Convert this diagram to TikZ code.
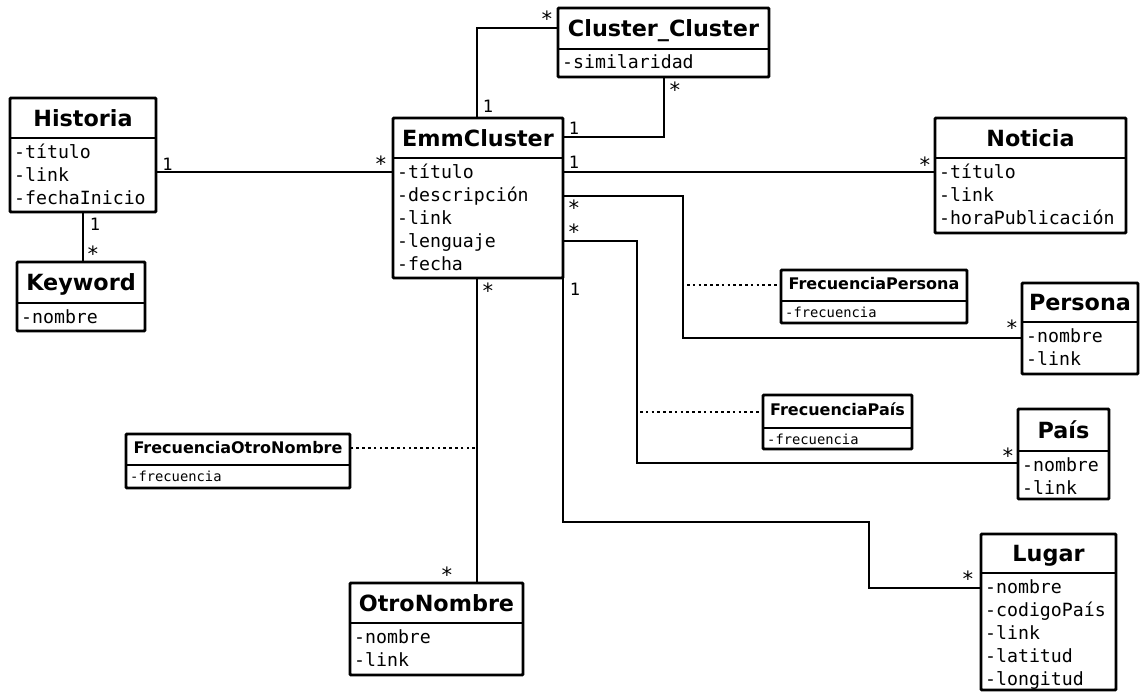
\documentclass[tikz,border=0pt]{standalone}
\usepackage{fontspec}
\setmainfont{DejaVu Sans}
\setmonofont{DejaVu Sans Mono}

\tikzset{
  classbox/.style={draw, line width=2.9pt, inner sep=0pt, outer sep=0pt, rounded corners=1pt},
  ctitle/.style={font=\bfseries\fontsize{22.3}{26}\selectfont, inner sep=0pt, anchor=base},
  ftitle/.style={font=\bfseries\fontsize{16}{18}\selectfont, inner sep=0pt, anchor=base},
  attr/.style={font=\ttfamily\fontsize{18.2}{22}\selectfont, inner sep=0pt, anchor=base west},
  fattr/.style={font=\ttfamily\fontsize{13.8}{16}\selectfont, inner sep=0pt, anchor=base west},
  mult/.style={font=\ttfamily\fontsize{17}{20}\selectfont, inner sep=0pt, anchor=base},
  star/.style={font=\ttfamily\fontsize{21}{24}\selectfont, inner sep=0pt, anchor=base},
  assoc/.style={line width=2.9pt},
  assocdots/.style={line width=2.9pt, dash pattern=on 2.6pt off 3.2pt},
}

% class box: name, left, top, right, bottom, divider, title, attributes
\newcommand\umlclass[8]{%
  \node[classbox, anchor=north west, minimum width={(#4-#2)*1pt}, minimum height={(#5-#3)*1pt}] (#1) at (#2,#3) {};
  \draw[classbox] (#2,#6) -- (#4,#6);
  \node[ctitle] (#1-title) at ({(#2+#4)/2},{(#3+#6)/2+8}) {#7};
  \foreach \a [count=\i from 0] in {#8} \node[attr] (#1-a\i) at ({#2+4},{#6+20+23*\i}) {\a};
}
% association class box, same arguments, smaller type
\newcommand\umlaclass[8]{%
  \node[classbox, anchor=north west, minimum width={(#4-#2)*1pt}, minimum height={(#5-#3)*1pt}] (#1) at (#2,#3) {};
  \draw[classbox] (#2,#6) -- (#4,#6);
  \node[ftitle] (#1-title) at ({(#2+#4)/2},{(#3+#6)/2+4}) {#7};
  \node[fattr] (#1-a0) at ({#2+4},{#6+16}) {#8};
}

\begin{document}
\begin{tikzpicture}[x=1pt,y=-1pt]
\useasboundingbox (0,0) rectangle (1141,693);

% classes
\umlclass{historia}{10}{98}{156}{212}{138}{Historia}{-título,-link,-fechaInicio}
\umlclass{keyword}{17}{262}{145}{331}{303}{Keyword}{-nombre}
\umlclass{emm}{393}{118}{563}{278}{158}{EmmCluster}{-título,-descripción,-link,-lenguaje,-fecha}
\umlclass{cc}{558}{8}{769}{77}{49}{Cluster\_Cluster}{-similaridad}
\umlclass{noticia}{935}{118}{1126}{233}{158}{Noticia}{-título,-link,-horaPublicación}
\umlclass{persona}{1022}{283}{1138}{374}{322}{Persona}{-nombre,-link}
\umlclass{pais}{1018}{409}{1109}{499}{451}{País}{-nombre,-link}
\umlclass{lugar}{981}{534}{1116}{690}{573}{Lugar}{-nombre,-codigoPaís,-link,-latitud,-longitud}
\umlclass{otro}{350}{583}{523}{675}{623}{OtroNombre}{-nombre,-link}

% association classes
\umlaclass{fpers}{781}{270}{967}{323}{301}{FrecuenciaPersona}{-frecuencia}
\umlaclass{fpais}{763}{395}{912}{449}{428}{FrecuenciaPaís}{-frecuencia}
\umlaclass{fotro}{126}{434}{350}{488}{465}{FrecuenciaOtroNombre}{-frecuencia}

% bend points
\coordinate (y-tit) at (0,172);
\coordinate (b-kw) at (83,0);
\coordinate (b-cc1) at (477,28);
\coordinate (b-cc2) at (664,137);
\coordinate (b-pers1) at (683,196);
\coordinate (b-pers2) at (683,338);
\coordinate (b-pais1) at (637,241);
\coordinate (b-pais2) at (637,463);
\coordinate (b-lug1) at (563,522);
\coordinate (b-lug2) at (869,522);
\coordinate (b-lug3) at (869,588);
\coordinate (b-otro) at (477,0);
\coordinate (d-pers) at (687,285);
\coordinate (d-pais) at (640,412);
\coordinate (d-otro) at (475,448);

% associations
\draw[assoc] (historia.east |- y-tit) -- (emm.west |- y-tit);
\draw[assoc] (historia.south -| b-kw) -- (keyword.north -| b-kw);
\draw[assoc] (emm.north -| b-cc1) |- (cc.west |- b-cc1);
\draw[assoc] (cc.south -| b-cc2) |- (emm.east |- b-cc2);
\draw[assoc] (emm.east |- y-tit) -- (noticia.west |- y-tit);
\draw[assoc] (emm.east |- b-pers1) -- (b-pers1) -- (b-pers2) -- (persona.west |- b-pers2);
\draw[assoc] (emm.east |- b-pais1) -- (b-pais1) -- (b-pais2) -- (pais.west |- b-pais2);
\draw[assoc] (emm.south east) -- (b-lug1) -- (b-lug2) -- (b-lug3) -- (lugar.west |- b-lug3);
\draw[assoc] (emm.south -| b-otro) -- (otro.north -| b-otro);

% links to association classes
\draw[assocdots] (d-pers) -- (fpers.west |- d-pers);
\draw[assocdots] (d-pais) -- (fpais.west |- d-pais);
\draw[assocdots] (d-otro) -- (fotro.east |- d-otro);

% multiplicities
\node[mult] (m-hist-1) at (167.5,170) {1};
\node[star] (m-hist-2) at (381,171.5) {*};
\node[mult] (m-kw-1) at (95,230) {1};
\node[star] (m-kw-2) at (93,261.5) {*};
\node[star] (m-cc-1) at (547,27) {*};
\node[mult] (m-cc-2) at (488,113) {1};
\node[star] (m-cc-3) at (675,97.5) {*};
\node[mult] (m-cc-4) at (574,134) {1};
\node[mult] (m-not-1) at (574,168) {1};
\node[star] (m-not-2) at (925,172.5) {*};
\node[star] (m-pers-1) at (574,215.5) {*};
\node[star] (m-pers-2) at (1012,335.5) {*};
\node[star] (m-pais-1) at (574,239.5) {*};
\node[star] (m-pais-2) at (1008,463.5) {*};
\node[mult] (m-lug-1) at (575,295) {1};
\node[star] (m-lug-2) at (968,586.5) {*};
\node[star] (m-otro-1) at (488,298.5) {*};
\node[star] (m-otro-2) at (447,582.5) {*};
\end{tikzpicture}
\end{document}
